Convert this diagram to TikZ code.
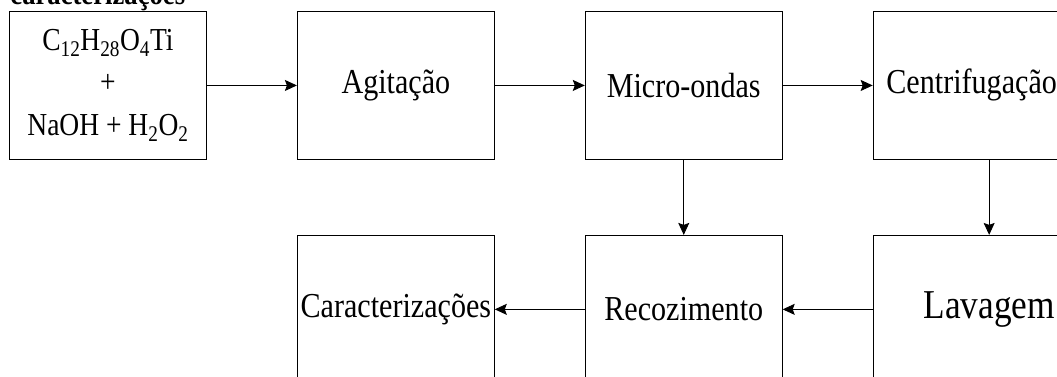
\documentclass[tikz,border=0pt]{standalone}
\usepackage{fontspec}
\setmainfont{Liberation Serif}[FakeStretch=0.86]
\usetikzlibrary{arrows.meta,positioning}

\begin{document}
\begin{tikzpicture}[x=1pt,y=1pt,->,>={Stealth[length=12pt,width=11pt,inset=2pt]},
               node distance=75pt and 90pt,line width=0.9pt,
               stage/.style={rectangle,draw,->,minimum width=197pt,minimum height=148pt,
                 inner sep=0pt,align=center,font=\fontsize{35}{40}\selectfont}]
  \useasboundingbox (0,-377) rectangle (1057,0);
  \clip (0,-377) rectangle (1057,0);

  \node[font=\bfseries\fontsize{31}{36}\selectfont,inner sep=0pt,anchor=base west] (title) at (10,-4.7) {caracterizações};

  \node[stage,anchor=north west,font=\fontsize{32}{42.5}\selectfont] (reag) at (9,-11)
    {C\textsubscript{12}H\textsubscript{28}O\textsubscript{4}Ti\\+\\NaOH + H\textsubscript{2}O\textsubscript{2}};
  \node[stage] (agit) [right=of reag] {Agitação};
  \node[stage] (micro) [right=of agit] {Micro-ondas};
  \node[stage] (centr) [right=of micro] {Centrifugação};
  \node[stage] (recoz) [below=of micro] {Recozimento};
  \node[stage] (caract) [below=of agit] {Caracterizações};
  \node[stage,minimum width=232pt,font=\fontsize{41}{46}\selectfont] (lav)
    [below=of centr.south west,anchor=north west] {Lavagem};

  \path
    (reag) edge (agit)
    (agit) edge (micro)
    (micro) edge (centr)
    (micro) edge (recoz)
    (centr.south -| lav) edge (lav)
    (lav) edge (recoz)
    (recoz) edge (caract)
  ;
\end{tikzpicture}
\end{document}
